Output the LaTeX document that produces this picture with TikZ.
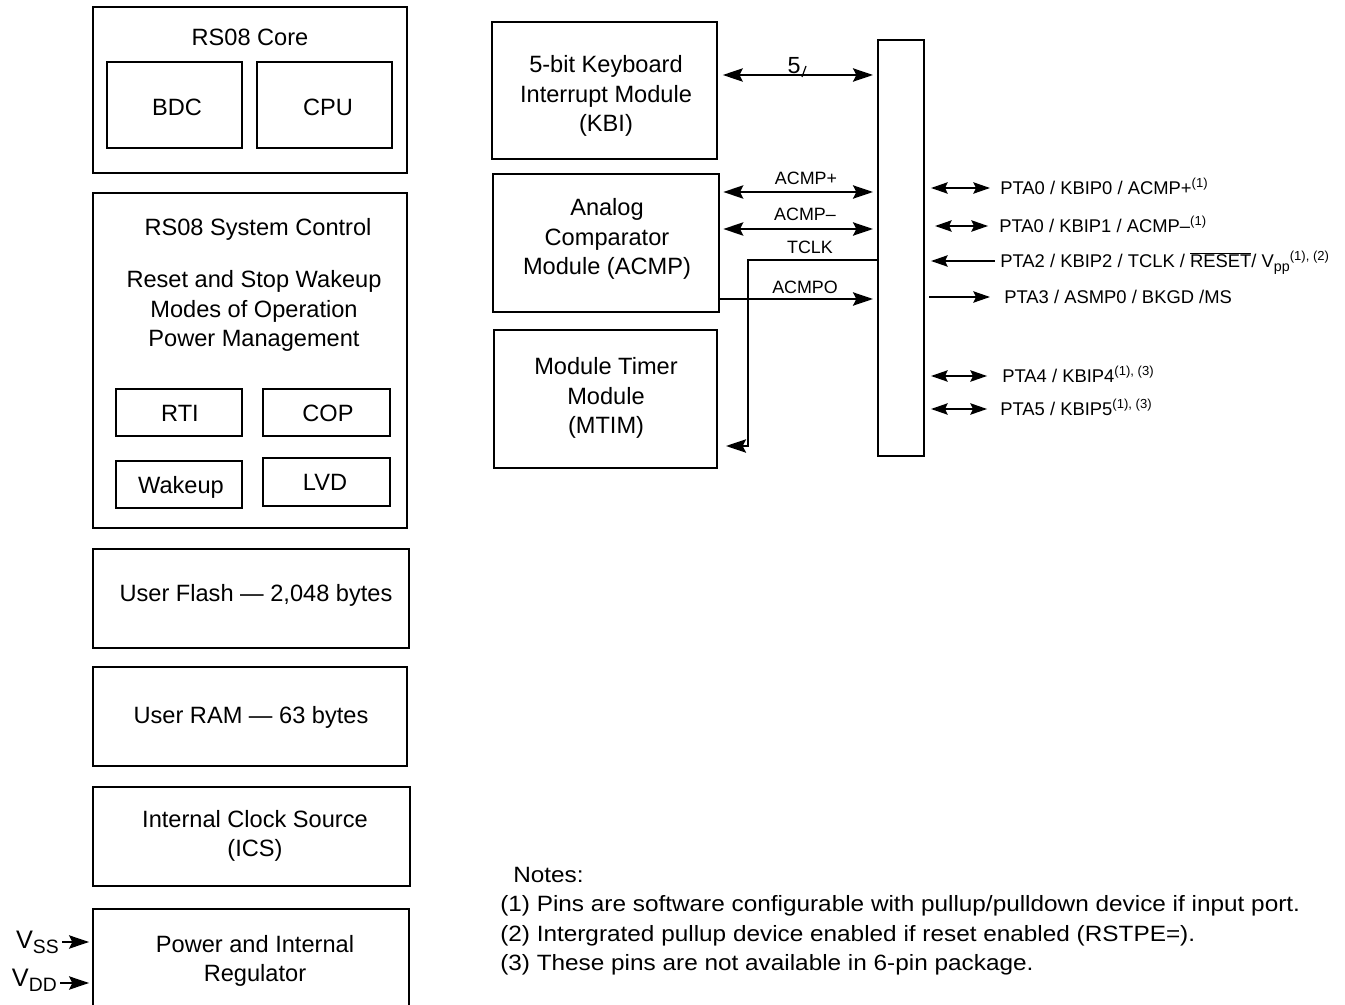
\documentclass[tikz,border=0pt]{standalone}
\usepackage{fontspec}
\setmainfont{Liberation Sans}
\newfontfamily\notefont[FakeStretch=1.1]{Liberation Sans}
\usetikzlibrary{arrows.meta,fit}
\newcommand\mainsz{\fontsize{17.7}{22.3}\selectfont}
\newcommand\lblsz{\fontsize{13.4}{15}\selectfont}
\newcommand\pinsz{\fontsize{13.8}{15}\selectfont}
\newcommand\supx[1]{\raisebox{5.6pt}{\fontsize{9.8}{10}\selectfont #1}}
\newcommand\subx[1]{\raisebox{-3.2pt}{\fontsize{10.7}{11}\selectfont #1}}
\newcommand\vsub[1]{\raisebox{-4pt}{\fontsize{14.5}{15}\selectfont #1}}
\begin{document}
\begin{tikzpicture}[x=0.75pt,y=-0.75pt,
  box/.style={draw,line width=1.5pt,inner sep=0pt},
  txt/.style={inner sep=0pt,align=center,font=\mainsz},
  one/.style={txt,text height=12.6pt,text depth=0pt},
  lbl/.style={inner sep=0pt,font=\lblsz,text height=9.6pt,text depth=0pt},
  pinlbl/.style={inner sep=0pt,font=\pinsz,anchor=west,text height=9.9pt,text depth=0pt},
  conn/.style={line width=1.5pt},
  tip/.style={-{Stealth[length=15pt,width=10pt,inset=2.5pt]}},
  dtip/.style={{Stealth[length=15pt,width=10pt,inset=2.5pt]}-{Stealth[length=15pt,width=10pt,inset=2.5pt]}},
  ptip/.style={-{Stealth[length=12.5pt,width=8.5pt,inset=2pt]}},
  pltip/.style={{Stealth[length=12.5pt,width=8.5pt,inset=2pt]}-},
  pdtip/.style={{Stealth[length=12.5pt,width=8.5pt,inset=2pt]}-{Stealth[length=12.5pt,width=8.5pt,inset=2pt]}},
  note/.style={inner sep=0pt,anchor=west,font=\notefont\fontsize{16.6}{20}\selectfont,text height=12pt,text depth=0pt}]
\useasboundingbox (0,0) rectangle (1345,1005);

% ---------- left column ----------
\node[box,fit={(93,7) (407,173)}] (core) {};
\node[one] (coret) at (250,37) {RS08 Core};
\node[box,fit={(107,62) (242,148)}] (bdc) {};
\node[one] (bdct) at (177,107) {BDC};
\node[box,fit={(257,62) (392,148)}] (cpu) {};
\node[one] (cput) at (328,107) {CPU};

\node[box,fit={(93,193) (407,528)}] (sys) {};
\node[one] (syst) at (258,227) {RS08 System Control};
\node[txt] (sysl) at (254,311) {Reset and Stop Wakeup\\Modes of Operation\\Power Management};
\node[box,fit={(116,389) (242,436)}] (rti) {};
\node[one] (rtit) at (180,413) {RTI};
\node[box,fit={(263,389) (390,436)}] (cop) {};
\node[one] (copt) at (328,413) {COP};
\node[box,fit={(116,461) (242,508)}] (wak) {};
\node[one] (wakt) at (181,485) {Wakeup};
\node[box,fit={(263,458) (390,506)}] (lvd) {};
\node[one] (lvdt) at (325,482) {LVD};

\node[box,fit={(93,549) (409,648)}] (flash) {};
\node[one] (flasht) at (256,593) {User Flash — 2,048 bytes};
\node[box,fit={(93,667) (407,766)}] (ram) {};
\node[one] (ramt) at (251,715) {User RAM — 63 bytes};
\node[box,fit={(93,787) (410,886)}] (ics) {};
\node[txt] (icst) at (255,836) {Internal Clock Source\\(ICS)};
\node[box,fit={(93,909) (409,1012)}] (pwr) {};
\node[txt] (pwrt) at (255,961) {Power and Internal\\Regulator};

\node[inner sep=0pt,anchor=east,font=\fontsize{19}{22}\selectfont,text height=13.5pt,text depth=0pt] (vss) at (59,939) {V\vsub{SS}};
\node[inner sep=0pt,anchor=east,font=\fontsize{19}{22}\selectfont,text height=13.5pt,text depth=0pt] (vdd) at (57,977) {V\vsub{DD}};
\coordinate (yss) at (0,942);
\coordinate (ydd) at (0,983);
\draw[conn,tip,shorten >=2.2pt] (vss.east |- yss) ++(3,0) -- (pwr.west |- yss);
\draw[conn,tip,shorten >=2.2pt] (vdd.east |- ydd) ++(3,0) -- (pwr.west |- ydd);

% ---------- middle ----------
\node[box,fit={(492,22) (717,159)}] (kbi) {};
\node[txt] (kbit) at (606,96) {5-bit Keyboard\\Interrupt Module\\(KBI)};
\node[box,fit={(493,174) (719,312)}] (acmp) {};
\node[txt] (acmpt) at (607,239) {Analog\\Comparator\\Module (ACMP)};
\node[box,fit={(494,330) (717,468)}] (mtim) {};
\node[txt] (mtimt) at (606,398) {Module Timer\\Module\\(MTIM)};
\node[box,fit={(878,40) (924,456)}] (bus) {};

% connectors to bus
\coordinate (yk) at (0,75);
\coordinate (yap) at (0,192);
\coordinate (yam) at (0,229);
\coordinate (ytc) at (0,260);
\coordinate (yao) at (0,299);
\coordinate (ymt) at (0,446);
\coordinate (tcx) at (748,300);

\draw[conn,dtip,shorten <=3.6pt,shorten >=3pt] (kbi.east |- yk) -- (bus.west |- yk);
\node[inner sep=0pt,font=\fontsize{17.5}{18}\selectfont,text height=12.5pt,text depth=0pt] (five) at (794,65) {5};
\draw[line width=0.9pt] (802,77) -- (806,66);

\draw[conn,dtip,shorten <=2.5pt,shorten >=3pt] (acmp.east |- yap) -- (bus.west |- yap);
\node[lbl] (lap) at (806,178) {ACMP+};
\draw[conn,dtip,shorten <=2.5pt,shorten >=3pt] (acmp.east |- yam) -- (bus.west |- yam);
\node[lbl] (lam) at (805,214) {ACMP–};
\draw[conn,tip,shorten >=6pt] (bus.west |- ytc) -| (tcx) |- (mtim.east |- ymt);
\node[lbl] (ltc) at (810,247) {TCLK};
\draw[conn,tip,shorten >=3pt] (acmp.east |- yao) -- (bus.west |- yao);
\node[lbl] (lao) at (805,287) {ACMPO};

% ---------- pins ----------
\node[pinlbl] (p0) at (1000,188) {PTA0 / KBIP0 / ACMP+\supx{(1)}};
\node[pinlbl] (p1) at (999,226) {PTA0 / KBIP1 / ACMP–\supx{(1)}};
\node[pinlbl] (p2) at (1000,261) {PTA2 / KBIP2 / TCLK / $\overline{\hbox{RESET}}$/ V\subx{pp}\supx{(1), (2)}};
\node[pinlbl] (p3) at (1004,297) {PTA3 / ASMP0 / BKGD /MS};
\node[pinlbl] (p4) at (1002,376) {PTA4 / KBIP4\supx{(1), (3)}};
\node[pinlbl] (p5) at (1000,409) {PTA5 / KBIP5\supx{(1), (3)}};

\draw[conn,pdtip,shorten <=4.5pt,shorten >=7.5pt] (bus.east |- p0.west) -- (p0.west);
\draw[conn,pdtip,shorten <=7.5pt,shorten >=8.2pt] (bus.east |- p1.west) -- (p1.west);
\draw[conn,pltip,shorten <=4.5pt,shorten >=3.7pt] (bus.east |- p2.west) -- (p2.west);
\draw[conn,ptip,shorten <=3pt,shorten >=10.5pt] (bus.east |- p3.west) -- (p3.west);
\draw[conn,pdtip,shorten <=4.5pt,shorten >=11.2pt] (bus.east |- p4.west) -- (p4.west);
\draw[conn,pdtip,shorten <=4.5pt,shorten >=9.7pt] (bus.east |- p5.west) -- (p5.west);

% ---------- notes ----------
\node[note] (n0) at (513,874) {Notes:};
\node[note] (n1) at (500,903) {(1) Pins are software configurable with pullup/pulldown device if input port.};
\node[note] (n2) at (500,933) {(2) Intergrated pullup device enabled if reset enabled (RSTPE=).};
\node[note] (n3) at (500,962) {(3) These pins are not available in 6-pin package.};
\end{tikzpicture}
\end{document}
